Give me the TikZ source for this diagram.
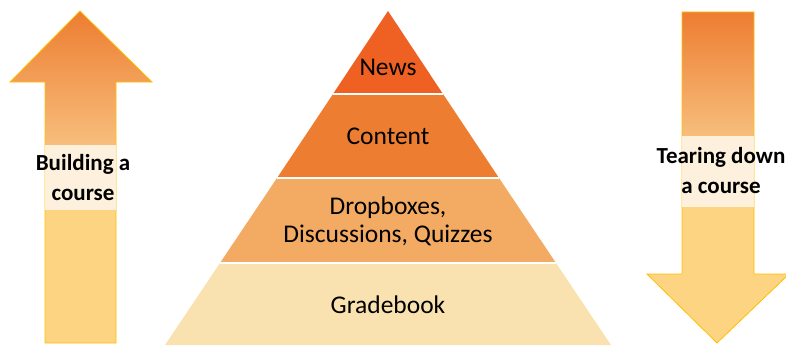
\documentclass[tikz,border=0pt]{standalone}
\usepackage{fontspec}
\setmainfont{Carlito}
\definecolor{cNews}{HTML}{EF6123}
\definecolor{cContent}{HTML}{ED7D31}
\definecolor{cDrop}{HTML}{F3AA62}
\definecolor{cGrade}{HTML}{F9E2AF}
\definecolor{cTop}{HTML}{ED7D31}
\definecolor{cMid}{HTML}{F7BE7C}
\definecolor{cBot}{HTML}{FDD482}
\definecolor{cLine}{HTML}{FFC000}
\definecolor{cBand}{HTML}{FEF4E6}
\begin{document}
\begin{tikzpicture}[x=1pt,y=-1pt,
  plabel/.style={font=\fontsize{25.5}{28}\selectfont,align=center,text=black,inner sep=0pt},
  alabel/.style={font=\bfseries\fontsize{23}{30}\selectfont,align=center,text=black,inner sep=0pt},
  outline/.style={draw=cLine,line width=0.8pt,line join=miter}]
\useasboundingbox (0,0) rectangle (786,345);
% pyramid
\fill[cGrade] (220,263) -- (556,263) -- (611,345) -- (165,345) -- cycle;
\fill[cDrop] (277,178) -- (499,178) -- (556,263) -- (220,263) -- cycle;
\fill[cContent] (333,94) -- (443,94) -- (499,178) -- (277,178) -- cycle;
\fill[cNews] (388,11) -- (443,94) -- (333,94) -- cycle;
\draw[draw=white,line width=1.5pt] (333,94) -- (443,94) (277,178) -- (499,178) (220,263) -- (556,263);
\node[plabel] (news) at (388,67) {News};
\node[plabel] (content) at (388,136) {Content};
\node[plabel] (drop) at (388,221) {Dropboxes,\\Discussions, Quizzes};
\node[plabel] (grade) at (388,305) {Gradebook};
% left arrow
\def\uparrowpath{(80,11) -- (152,82) -- (116,82) -- (116,343) -- (45,343) -- (45,82) -- (10,82) -- cycle}
\begin{scope}
\clip \uparrowpath;
\shade[top color=cTop,bottom color=cMid] (0,11) rectangle (160,145);
\fill[cBot] (0,145) rectangle (160,345);
\end{scope}
\draw[outline] \uparrowpath;
\fill[cBand,opacity=0.9] (45,145) rectangle (116,210);
\node[alabel] (build) at (83,178) {Building a\\course};
% right arrow
\def\downarrowpath{(682,12) -- (754,12) -- (754,274) -- (789,274) -- (717,343) -- (647,274) -- (682,274) -- cycle}
\begin{scope}
\clip \downarrowpath;
\shade[top color=cTop,bottom color=cMid] (640,12) rectangle (790,136);
\fill[cBot] (640,136) rectangle (790,345);
\end{scope}
\draw[outline] \downarrowpath;
\fill[cBand,opacity=0.9] (682,136) rectangle (754,207);
\node[alabel] (tear) at (721,171) {Tearing down\\a course};
\end{tikzpicture}
\end{document}
